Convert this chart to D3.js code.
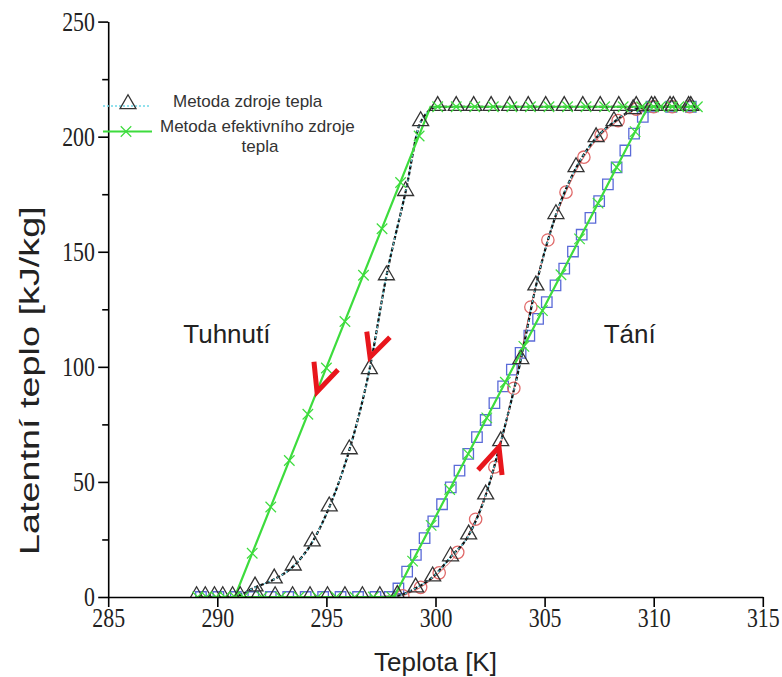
<!DOCTYPE html>
<html><head><meta charset="utf-8">
<script src="https://cdn.jsdelivr.net/npm/d3@7"></script>
<style>body{margin:0;background:#fff}svg{display:block}</style>
</head><body><svg id="c" width="782" height="677"></svg>
<script>
// ---------- data ----------
const xDomain = [285, 315];
const yDomain = [0, 250];
const xTicks = [285, 290, 295, 300, 305, 310, 315];
const yTicks = [0, 50, 100, 150, 200, 250];
const yMinorTicks = [25, 75, 125, 175, 225];

// solidification, heat-source method (triangles)
const solidSrcT = [289.05, 289.87, 290.7, 291.73, 292.61, 293.48, 294.35, 295.13, 296.05, 296.97, 297.75, 298.63, 299.32, 300.1, 300.95, 301.75, 302.55, 303.4, 304.25, 305.05, 305.9, 306.75, 307.55, 308.4, 309.2, 310.05, 310.9, 311.7];
const solidSrcL = [0, 0, 0, 4.2, 7.7, 13.3, 23.8, 39.0, 63.8, 98.6, 139.4, 176, 206.4, 213, 213, 213, 213, 213, 213, 213, 213, 213, 213, 213, 213, 213, 213, 213];

// melting, heat-source method (triangles)
const meltSrcT = [289.45, 290.25, 291.05, 291.85, 292.65, 293.45, 294.25, 295.05, 295.85, 296.65, 297.45, 298.25, 299.09, 299.87, 300.69, 301.52, 302.3, 302.99, 303.91, 304.6, 305.52, 306.44, 307.36, 308.18, 309.06, 309.9, 310.75, 311.6];
const meltSrcL = [0, 0, 0, 0, 0, 0, 0, 0, 0, 0, 0, 0.5, 3.8, 8.6, 17.3, 26.8, 44.2, 67.3, 103, 135, 166, 186.4, 199.4, 206.4, 211.6, 213, 213, 213];

// melting, red circles
const meltCircT = [298.5, 299.32, 300.17, 301.02, 301.84, 302.72, 303.59, 304.37, 305.15, 305.98, 306.8, 307.59, 308.37, 309.2, 310.0, 310.85, 311.65];
const meltCircL = [0.5, 4.2, 10.5, 19.4, 33.8, 56.5, 90.7, 126, 155.1, 175.9, 191.1, 200.7, 207, 212, 213, 213, 213];

// melting, blue squares
const meltSqT = [289.25, 290.05, 290.85, 291.65, 292.45, 293.25, 294.05, 294.85, 295.65, 296.45, 297.25, 297.9, 298.3, 298.7, 299.1, 299.5, 299.9, 300.3, 300.7, 301.1, 301.5, 301.9, 302.3, 302.7, 303.1, 303.5, 303.9, 304.3, 304.7, 305.1, 305.5, 305.9, 306.3, 306.7, 307.1, 307.5, 307.9, 308.3, 308.7, 309.1, 309.5, 309.9, 310.8, 311.7];
const meltSqL = [0, 0, 0, 0, 0, 0, 0, 0, 0, 0, 0, 0, 3.7, 11.0, 18.3, 25.6, 32.9, 40.3, 47.6, 54.9, 62.2, 69.5, 76.9, 84.2, 91.5, 98.8, 106.1, 113.5, 120.8, 128.1, 135.4, 142.7, 150.1, 157.4, 164.7, 172.0, 179.3, 186.7, 194.0, 201.3, 208.6, 213, 213, 213];

// effective heat-source method (green lines)
const solidEffT = [289, 290.8, 299.77, 312];
const solidEffL = [0, 0, 213, 213];
const meltEffT = [289, 298.1, 309.74, 312];
const meltEffL = [0, 0, 213, 213];
const solidEffMarkT = [289.1, 289.95, 290.8, 291.6, 292.45, 293.3, 294.15, 295.0, 295.85, 296.7, 297.55, 298.4, 299.25, 300.1, 300.95, 301.8, 302.65, 303.5, 304.35, 305.2, 306.05, 306.9, 307.75, 308.6, 309.45, 310.3, 311.15, 312.0];
const solidEffMarkL = [0, 0, 0, 19, 39.1, 59.3, 79.4, 99.5, 119.7, 139.8, 160, 180.1, 200.3, 213, 213, 213, 213, 213, 213, 213, 213, 213, 213, 213, 213, 213, 213, 213];
const meltEffMarkT = [289.5, 290.35, 291.2, 292.05, 292.9, 293.75, 294.6, 295.45, 296.3, 297.15, 298.0, 298.95, 299.8, 300.65, 301.5, 302.35, 303.2, 304.05, 304.9, 305.75, 306.6, 307.45, 308.3, 309.15, 310.0, 310.85, 311.7];
const meltEffMarkL = [0, 0, 0, 0, 0, 0, 0, 0, 0, 0, 0, 15.6, 31.1, 46.7, 62.2, 77.8, 93.3, 108.9, 124.4, 140, 155.6, 171.1, 186.7, 202.2, 213, 213, 213];

// red arrows (data coordinates)
const arrowSolidEff = [[294.43, 102.2], [294.57, 89.1], [295.53, 98.7]];
const arrowSolidSrc = [[296.85, 115.3], [297.0, 104.2], [297.91, 112.9]];
const arrowMelt = [[301.95, 55.2], [302.91, 65.2], [303.05, 53.0]];

// labels
const legendLabels = ["Metoda zdroje tepla", "Metoda efektivního zdroje", "tepla"];
const annotations = [{t: "Tuhnutí", T: 290.44, L: 110.4}, {t: "Tání", T: 308.9, L: 110.4}];
const xTitle = "Teplota [K]";
const yTitle = "Latentní teplo [kJ/kg]";

// ---------- drawing ----------
const svg = d3.select('#c');
const x = d3.scaleLinear().domain(xDomain).range([108.2, 762.8]);
const y = d3.scaleLinear().domain(yDomain).range([597, 21.6]);
const zip = (a, b) => a.map((v, i) => [v, b[i]]);

const GREEN = '#3ddc3d', BLUE = '#5a6ad8', RED = '#e06a6a', ARROW = '#e8161c';
const SANS = '"Liberation Sans", Arial, sans-serif';
const SERIF = '"Liberation Serif", "Times New Roman", serif';

const defs = svg.append('defs');
defs.append('clipPath').attr('id', 'clip').append('rect')
  .attr('x', x(285)).attr('y', 0).attr('width', x(315) - x(285) + 2).attr('height', y(0));

const plot = svg.append('g').attr('clip-path', 'url(#clip)');

const lineLin = d3.line().x(d => x(d[0])).y(d => y(d[1]));
const lineSm = d3.line().x(d => x(d[0])).y(d => y(d[1])).curve(d3.curveMonotoneX);

const timesSym = {draw(ctx, size) { const r = Math.sqrt(size) / 2; ctx.moveTo(-r, -r); ctx.lineTo(r, r); ctx.moveTo(r, -r); ctx.lineTo(-r, r); }};

// blue squares series
const sq = zip(meltSqT, meltSqL);
plot.append('path').attr('d', lineLin(sq)).attr('fill', 'none').attr('stroke', BLUE).attr('stroke-width', 1);
plot.selectAll('.sq').data(sq).join('path').attr('class', 'sq')
  .attr('transform', d => `translate(${x(d[0])},${y(d[1])})`)
  .attr('d', d3.symbol(d3.symbolSquare, 110)).attr('fill', 'none').attr('stroke', BLUE).attr('stroke-width', 1.3);

// red circles series
const ci = zip(meltCircT, meltCircL);
plot.append('path').attr('d', lineSm(ci)).attr('fill', 'none').attr('stroke', RED).attr('stroke-width', 1);
plot.selectAll('.ci').data(ci).join('path').attr('class', 'ci')
  .attr('transform', d => `translate(${x(d[0])},${y(d[1])})`)
  .attr('d', d3.symbol(d3.symbolCircle, 120)).attr('fill', 'none').attr('stroke', RED).attr('stroke-width', 1.3);

// heat-source method lines (black dashed + cyan dotted)
[zip(solidSrcT, solidSrcL), zip(meltSrcT, meltSrcL)].forEach(s => {
  plot.append('path').attr('d', lineSm(s)).attr('fill', 'none').attr('stroke', '#111').attr('stroke-width', 2.2).attr('stroke-dasharray', '4,2');
  plot.append('path').attr('d', lineSm(s)).attr('fill', 'none').attr('stroke', '#5fd0e0').attr('stroke-width', 1.2).attr('stroke-dasharray', '2,3');
});

// green effective lines
[zip(solidEffT, solidEffL), zip(meltEffT, meltEffL)].forEach(s => {
  plot.append('path').attr('d', lineLin(s)).attr('fill', 'none').attr('stroke', GREEN).attr('stroke-width', 2.2);
});

// triangles
[zip(solidSrcT, solidSrcL), zip(meltSrcT, meltSrcL)].forEach((s, k) => {
  plot.selectAll('.tri' + k).data(s).join('path').attr('class', 'tri' + k)
    .attr('transform', d => `translate(${x(d[0])},${y(d[1]) - 1})`)
    .attr('d', d3.symbol(d3.symbolTriangle, 110)).attr('fill', 'none').attr('stroke', '#333').attr('stroke-width', 1.3);
});

// green x markers
[zip(solidEffMarkT, solidEffMarkL), zip(meltEffMarkT, meltEffMarkL)].forEach((s, k) => {
  plot.selectAll('.xm' + k).data(s).join('path').attr('class', 'xm' + k)
    .attr('transform', d => `translate(${x(d[0])},${y(d[1])})`)
    .attr('d', d3.symbol(timesSym, 110)).attr('fill', 'none').attr('stroke', GREEN).attr('stroke-width', 1.2);
});

// red arrows
[arrowSolidEff, arrowSolidSrc, arrowMelt].forEach(a => {
  svg.append('path').attr('d', lineLin(a)).attr('fill', 'none').attr('stroke', ARROW)
    .attr('stroke-width', 5).attr('stroke-linejoin', 'miter').attr('stroke-linecap', 'butt');
});

// axes
const gx = svg.append('g').attr('transform', `translate(0,${y(0)})`)
  .call(d3.axisBottom(x).tickValues(xTicks).tickSize(10).tickSizeOuter(0).tickFormat(d3.format('d')));
const gy = svg.append('g').attr('transform', `translate(${x(285)},0)`)
  .call(d3.axisLeft(y).tickValues(yTicks).tickSize(10).tickSizeOuter(0).tickPadding(7).tickFormat(d3.format('d')));
const gym = svg.append('g').attr('transform', `translate(${x(285)},0)`)
  .call(d3.axisLeft(y).tickValues(yMinorTicks).tickSize(6).tickSizeOuter(0).tickFormat(''));
gym.select('.domain').remove();
[gx, gy, gym].forEach(g => {
  g.select('.domain').attr('stroke', '#000').attr('stroke-width', 1.6);
  g.selectAll('.tick line').attr('stroke', '#000').attr('stroke-width', 1.6);
});
gx.selectAll('.tick text').attr('font-family', SERIF).attr('font-size', 28).attr('y', 10)
  .attr('fill', '#222').attr('transform', 'scale(0.78,1)');
gy.selectAll('.tick text').attr('font-family', SERIF).attr('font-size', 28)
  .attr('fill', '#222').attr('transform', 'scale(0.78,1)');

// axis titles
svg.append('text').attr('x', x(300)).attr('y', 671).attr('text-anchor', 'middle')
  .attr('font-family', SANS).attr('font-size', 26).attr('fill', '#222').text(xTitle);
svg.append('text').attr('transform', `translate(39,${y(94)}) rotate(-90) scale(1.4,1)`).attr('text-anchor', 'middle')
  .attr('font-family', SANS).attr('font-size', 27).attr('fill', '#222').text(yTitle);

// annotations
svg.selectAll('.ann').data(annotations).join('text').attr('class', 'ann')
  .attr('x', d => x(d.T)).attr('y', d => y(d.L)).attr('text-anchor', 'middle')
  .attr('font-family', SANS).attr('font-size', 26).attr('fill', '#222').text(d => d.t);

// legend
const lg = svg.append('g');
lg.append('line').attr('x1', 103).attr('x2', 150).attr('y1', 106).attr('y2', 106)
  .attr('stroke', '#6fd8e8').attr('stroke-width', 1.5).attr('stroke-dasharray', '2,2');
lg.append('path').attr('transform', 'translate(128,104)').attr('d', d3.symbol(d3.symbolTriangle, 110))
  .attr('fill', 'none').attr('stroke', '#333').attr('stroke-width', 1.3);
lg.append('line').attr('x1', 103).attr('x2', 152).attr('y1', 131.5).attr('y2', 131.5)
  .attr('stroke', GREEN).attr('stroke-width', 2.2);
lg.append('path').attr('transform', 'translate(126,131.5)').attr('d', d3.symbol(timesSym, 110))
  .attr('fill', 'none').attr('stroke', GREEN).attr('stroke-width', 1.2);
lg.append('text').attr('x', 173).attr('y', 107).attr('font-family', SANS).attr('font-size', 17).attr('fill', '#333').text(legendLabels[0]);
lg.append('text').attr('x', 160).attr('y', 132).attr('font-family', SANS).attr('font-size', 17).attr('fill', '#333').text(legendLabels[1]);
lg.append('text').attr('x', 260).attr('y', 152).attr('text-anchor', 'middle').attr('font-family', SANS).attr('font-size', 17).attr('fill', '#333').text(legendLabels[2]);
</script>
</body></html>
